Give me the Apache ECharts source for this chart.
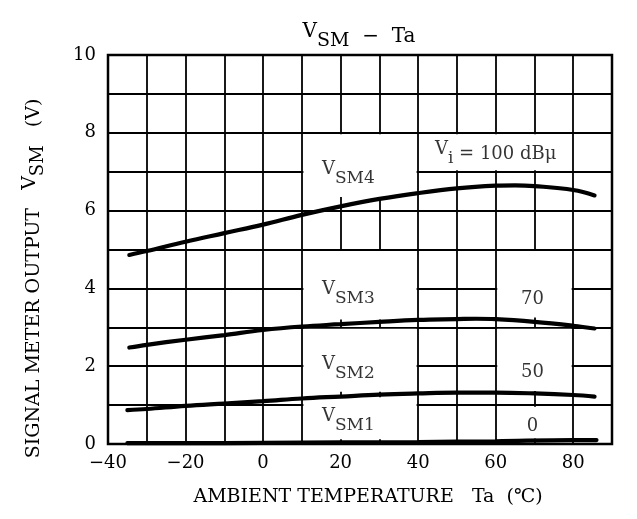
<!DOCTYPE html>
<html><head><meta charset="utf-8">
<script src="https://cdn.jsdelivr.net/npm/echarts@6/dist/echarts.min.js"></script>
<style>html,body{margin:0;padding:0;background:#fff}#c{width:637px;height:519px}</style>
</head><body><div id="c"></div>
<script>
// tick labels
const xTicks = [-40, -20, 0, 20, 40, 60, 80];
const yTicks = [0, 2, 4, 6, 8, 10];
// series: Vi = 100 dBμ (VSM4)
const vsm4X = [-34.5, -30, -20, -10, 0, 10, 20, 30, 40, 50, 60, 65, 70, 80, 85.5];
const vsm4Y = [4.86, 4.96, 5.20, 5.42, 5.64, 5.89, 6.11, 6.30, 6.45, 6.57, 6.64, 6.65, 6.63, 6.53, 6.39];
// Vi = 70 dBμ (VSM3)
const vsm3X = [-34.5, -30, -20, -10, 0, 10, 20, 30, 40, 50, 55, 60, 70, 80, 85.5];
const vsm3Y = [2.48, 2.55, 2.68, 2.80, 2.93, 3.02, 3.08, 3.14, 3.19, 3.21, 3.22, 3.21, 3.14, 3.04, 2.97];
// Vi = 50 dBμ (VSM2)
const vsm2X = [-35, -30, -20, -10, 0, 10, 20, 30, 40, 50, 60, 70, 80, 85.5];
const vsm2Y = [0.87, 0.90, 0.98, 1.04, 1.10, 1.17, 1.22, 1.27, 1.30, 1.32, 1.32, 1.30, 1.26, 1.22];
// Vi = 0 (VSM1)
const vsm1X = [-35, -20, 0, 20, 40, 60, 80, 86];
const vsm1Y = [0.02, 0.02, 0.03, 0.04, 0.05, 0.07, 0.10, 0.10];

const F = 'DejaVu Serif';
const zip = (xs, ys) => xs.map((x, i) => [x, ys[i]]);

function richSet(size) {
  return {
    v: { fontFamily: F, fontSize: size, fontWeight: 'normal', color: '#000', padding: [0, 0, 9, 0] },
    s: { fontFamily: F, fontSize: size - 1, fontWeight: 'normal', color: '#000', padding: [9, 0, 0, 0] },
    n: { fontFamily: F, fontSize: size, fontWeight: 'normal', color: '#000' }
  };
}

function curve(name, xs, ys) {
  return {
    name, type: 'line', data: zip(xs, ys), smooth: 0.4, symbol: 'none', z: 4,
    lineStyle: { color: '#000', width: 4.2, cap: 'round' }
  };
}

const chart = echarts.init(document.getElementById('c'), null, { renderer: 'canvas' });
chart.setOption({
  backgroundColor: '#fff',
  animation: false,
  title: {
    text: '{v|V}{s|SM}{n|  −  Ta}',
    left: 354, top: 17, textAlign: 'center',
    textStyle: { fontWeight: 'normal', rich: richSet(20) }
  },
  grid: { left: 108, right: 25, top: 55, bottom: 75, show: true, borderColor: '#000', borderWidth: 2.5 },
  xAxis: {
    type: 'value', min: -40, max: 90, interval: 10,
    name: 'AMBIENT TEMPERATURE   Ta  (℃)',
    nameLocation: 'middle', nameGap: 44,
    nameTextStyle: { fontFamily: F, fontSize: 19, color: '#000', padding: [0, 0, 0, 16] },
    axisLine: { show: false }, axisTick: { show: false },
    axisLabel: {
      fontFamily: F, fontSize: 18, color: '#000', margin: 10,
      formatter: v => xTicks.includes(v) ? String(v).replace('-', '\u2212') : ''
    },
    splitLine: { show: true, lineStyle: { color: '#000', width: 1.8 } }
  },
  yAxis: {
    type: 'value', min: 0, max: 10, interval: 1,
    name: '{n|SIGNAL METER OUTPUT   }{v|V}{s|SM}{n|   (V)}',
    nameLocation: 'middle', nameGap: 60,
    nameTextStyle: {
      padding: [0, 58, 0, 0],
      rich: {
        n: { fontFamily: F, fontSize: 19, color: '#000' },
        v: { fontFamily: F, fontSize: 19, color: '#000', padding: [0, 0, 8, 0] },
        s: { fontFamily: F, fontSize: 18, color: '#000', padding: [8, 0, 0, 0] }
      }
    },
    axisLine: { show: false }, axisTick: { show: false },
    axisLabel: {
      fontFamily: F, fontSize: 18, color: '#000', margin: 12,
      formatter: v => yTicks.includes(v) ? String(v) : ''
    },
    splitLine: { show: true, lineStyle: { color: '#000', width: 1.8 } }
  },
  series: [
    {
      type: 'line', data: [], z: 1, silent: true,
      markArea: {
        silent: true,
        itemStyle: { color: '#fff', opacity: 1 },
        label: { show: false },
        data: [
          [{ xAxis: 10.4, yAxis: 6.35 }, { xAxis: 39.6, yAxis: 7.96 }],
          [{ xAxis: 40.4, yAxis: 7.04 }, { xAxis: 79.6, yAxis: 7.96 }],
          [{ xAxis: 10.4, yAxis: 3.2 }, { xAxis: 39.6, yAxis: 4.96 }],
          [{ xAxis: 60.4, yAxis: 3.25 }, { xAxis: 79.6, yAxis: 4.96 }],
          [{ xAxis: 10.4, yAxis: 1.34 }, { xAxis: 39.6, yAxis: 2.96 }],
          [{ xAxis: 60.4, yAxis: 1.36 }, { xAxis: 79.6, yAxis: 2.96 }],
          [{ xAxis: 10.4, yAxis: 0.12 }, { xAxis: 39.6, yAxis: 1.2 }],
          [{ xAxis: 60.4, yAxis: 0.14 }, { xAxis: 79.6, yAxis: 0.96 }]
        ]
      }
    },
    curve('VSM4', vsm4X, vsm4Y),
    curve('VSM3', vsm3X, vsm3Y),
    curve('VSM2', vsm2X, vsm2Y),
    curve('VSM1', vsm1X, vsm1Y),
    {
      type: 'scatter', symbolSize: 0, z: 5, silent: true,
      label: {
        show: true, position: 'inside', color: '#000', textBorderWidth: 0,
        formatter: p => p.data.t, rich: richSet(18)
      },
      data: [
        { value: [22, 6.95], t: '{v|V}{s|SM4}' },
        { value: [60, 7.45], t: '{v|V}{s|i}{n| = 100 dBμ}' },
        { value: [22, 3.85], t: '{v|V}{s|SM3}' },
        { value: [69.5, 3.73], t: '{n|70}' },
        { value: [22, 1.92], t: '{v|V}{s|SM2}' },
        { value: [69.5, 1.84], t: '{n|50}' },
        { value: [22, 0.6], t: '{v|V}{s|SM1}' },
        { value: [69.5, 0.46], t: '{n|0}' }
      ]
    }
  ]
});
</script></body></html>
